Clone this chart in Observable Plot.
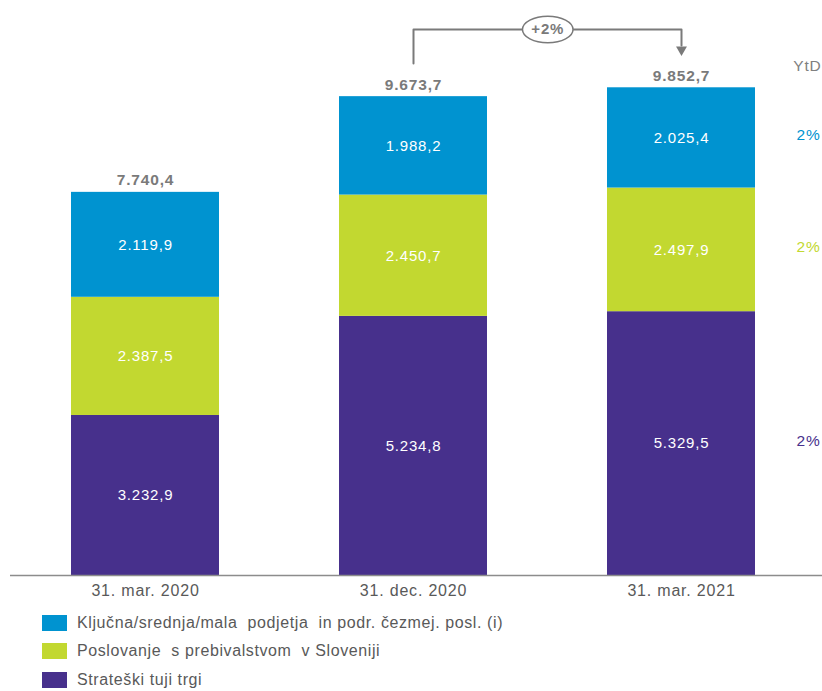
<!DOCTYPE html>
<html><head><meta charset="utf-8">
<script src="https://cdn.jsdelivr.net/npm/d3@7"></script>
<script src="https://cdn.jsdelivr.net/npm/@observablehq/plot@0.6"></script>
<style>
html,body{margin:0;padding:0;background:#fff;overflow:hidden;}
#wrap{position:relative;width:822px;height:691px;font-family:"Liberation Sans",Arial,sans-serif;}
#chart svg text{letter-spacing:0.8px;}
.lg{position:absolute;left:42px;height:16px;display:flex;align-items:center;white-space:pre;color:#595959;font-size:16px;letter-spacing:0.6px;}
.lg span.sw{display:inline-block;width:25px;height:16px;margin-right:10px;}
</style></head><body>
<div id="wrap"><div id="chart"></div><div id="legend"></div></div>
<script>
// ---- data ----
const categories = ["31. mar. 2020", "31. dec. 2020", "31. mar. 2021"];
const seriesNames = [ // bottom to top of stack
  "Strateški tuji trgi",
  "Poslovanje  s prebivalstvom  v Sloveniji",
  "Ključna/srednja/mala  podjetja  in podr. čezmej. posl. (i)"
];
const strateski = [3232.9, 5234.8, 5329.5];
const poslovanje = [2387.5, 2450.7, 2497.9];
const kljucna = [2119.9, 1988.2, 2025.4];
const totals = [7740.4, 9673.7, 9852.7];
const ytdValues = ["2%", "2%", "2%"]; // per series, bottom to top
const ytdHeader = "YtD";
const changeLabel = "+2%";
const seriesColors = ["#47308C", "#C2D830", "#0093D0"];

// ---- build tables ----
const seriesValues = [strateski, poslovanje, kljucna];
const rows = [];
categories.forEach((c, i) => {
  seriesNames.forEach((s, j) => rows.push({category: c, series: s, value: seriesValues[j][i]}));
});
const totalRows = categories.map((c, i) => ({category: c, total: totals[i]}));
const last = categories.length - 1;
let acc = 0;
const ytdRows = seriesNames.map((s, j) => {
  const v = seriesValues[j][last];
  const mid = acc + v / 2; acc += v;
  return {series: s, y: mid, text: ytdValues[j]};
});

const fmt = d3.formatLocale({decimal: ",", thousands: ".", grouping: [3], currency: ["", ""]}).format(",.1f");

// ---- layout ----
const W = 822, H = 608, mL = 10, mR = 0, mT = 80, mB = 33;
const padIn = 0.4488, padOut = 0.2365, align = 0.472;
const step = (W - mL - mR) / (categories.length - padIn + 2 * padOut);
const gray = "#7a7a7a";

// annotation levels (data units above the bars)
const yBracketTop = 11030, yBracketStart = 10343, yArrowEnd = 10707, yArrowHead = 10600;
const bracket = [
  {x: categories[1], y: yBracketStart},
  {x: categories[1], y: yBracketTop},
  {x: categories[2], y: yBracketTop},
  {x: categories[2], y: yArrowEnd}
];

const ellipse = {draw(ctx, size) {
  const r = Math.sqrt(size / Math.PI), rx = r * 1.9, ry = r, k = 0.5523;
  ctx.moveTo(rx, 0);
  ctx.bezierCurveTo(rx, ry * k, rx * k, ry, 0, ry);
  ctx.bezierCurveTo(-rx * k, ry, -rx, ry * k, -rx, 0);
  ctx.bezierCurveTo(-rx, -ry * k, -rx * k, -ry, 0, -ry);
  ctx.bezierCurveTo(rx * k, -ry, rx, -ry * k, rx, 0);
  ctx.closePath();
}};
const downTri = {draw(ctx, size) {
  const r = Math.sqrt(size / Math.PI);
  ctx.moveTo(-r * 1.3, -r); ctx.lineTo(r * 1.3, -r); ctx.lineTo(0, r * 1.25); ctx.closePath();
}};

const chart = Plot.plot({
  width: W, height: H,
  marginLeft: mL, marginRight: mR, marginTop: mT, marginBottom: mB,
  style: {fontFamily: "'Liberation Sans', Arial, sans-serif", color: "#595959", background: "#fff"},
  x: {domain: categories, paddingInner: padIn, paddingOuter: padOut, align, label: null},
  y: {domain: [0, 10000], axis: null},
  color: {domain: seriesNames, range: seriesColors},
  marks: [
    Plot.barY(rows, {x: "category", y: "value", fill: "series"}),
    Plot.text(rows, Plot.stackY({x: "category", y: "value", text: d => fmt(d.value), fill: "white", fontSize: 15})),
    Plot.text(totalRows, {x: "category", y: "total", text: d => fmt(d.total), lineAnchor: "bottom", dy: -7, fontSize: 15.5, fontWeight: "bold", fill: gray}),
    Plot.ruleY([0], {stroke: "#8c8c8c", strokeWidth: 1.5}),
    Plot.axisX({tickSize: 0, tickPadding: 9, fontSize: 16, fill: "#595959"}),
    Plot.line(bracket, {x: "x", y: "y", stroke: gray, strokeWidth: 2}),
    Plot.dot([{x: categories[2], y: yArrowHead}], {x: "x", y: "y", symbol: downTri, r: 4.2, fill: gray, stroke: "none"}),
    Plot.dot([{x: categories[1], y: yBracketTop}], {x: "x", y: "y", dx: step / 2, symbol: ellipse, r: 13.3, fill: "white", stroke: gray, strokeWidth: 1.5}),
    Plot.text([{x: categories[1], y: yBracketTop, t: changeLabel}], {x: "x", y: "y", dx: step / 2, text: "t", fontSize: 15, fontWeight: "bold", fill: gray}),
    Plot.text(ytdRows, {y: "y", text: "text", fill: "series", frameAnchor: "right", textAnchor: "end", dx: -2, dy: -3, fontSize: 15.5}),
    Plot.text([ytdHeader], {text: d => d, frameAnchor: "top-right", textAnchor: "end", lineAnchor: "middle", dx: -1, dy: -14, fontSize: 15.5, fill: "#808080"})
  ]
});
document.getElementById("chart").appendChild(chart);

// ---- legend (below the SVG) ----
const legendOrder = [2, 1, 0];
const tops = [615, 643, 672];
const lg = document.getElementById("legend");
legendOrder.forEach((j, k) => {
  const d = document.createElement("div");
  d.className = "lg";
  d.style.top = tops[k] + "px";
  d.innerHTML = `<span class="sw" style="background:${seriesColors[j]}"></span>`;
  d.appendChild(document.createTextNode(seriesNames[j]));
  lg.appendChild(d);
});
</script>
</body></html>
